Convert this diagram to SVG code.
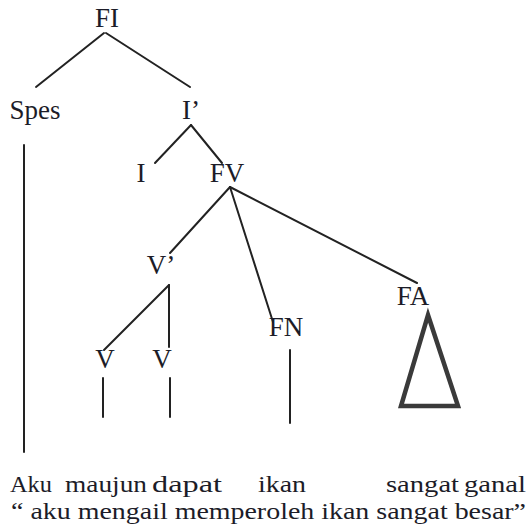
<svg xmlns="http://www.w3.org/2000/svg" width="529" height="530" viewBox="0 0 529 530">
<style>
text{font-family:"Liberation Serif","Times New Roman",serif;font-size:27px;fill:#1c1c28}
.n text{text-anchor:middle}
#gloss text{font-size:24px}
#connectors line{stroke:#222;stroke-width:2;stroke-linecap:round}
.tri{fill:none;stroke:#3a3a3a;stroke-width:4.5;stroke-linejoin:miter}
</style>
<rect width="529" height="530" fill="#fff"/>
<g id="connectors">
<line x1="104" y1="33" x2="36" y2="87"/>
<line x1="106" y1="33" x2="190" y2="87"/>
<line x1="191" y1="125" x2="155" y2="163"/>
<line x1="191" y1="125" x2="222" y2="163"/>
<line x1="24" y1="145" x2="24" y2="452"/>
<line x1="230" y1="187" x2="170" y2="253"/>
<line x1="230" y1="187" x2="273" y2="322"/>
<line x1="230" y1="187" x2="417" y2="283"/>
<line x1="169" y1="285" x2="169" y2="347"/>
<line x1="169" y1="285" x2="104" y2="350"/>
<line x1="103" y1="378" x2="103" y2="417"/>
<line x1="170" y1="378" x2="170" y2="417"/>
<line x1="290" y1="350" x2="290" y2="423"/>
</g>
<g class="n" id="FI"><text x="107" y="27">FI</text></g>
<g class="n" id="Spes"><text x="35" y="119">Spes</text></g>
<g class="n" id="Ibar"><text x="191" y="119">I’</text></g>
<g class="n" id="I"><text x="141" y="182">I</text></g>
<g class="n" id="FV"><text x="227" y="182">FV</text></g>
<g class="n" id="Vbar"><text x="161" y="274">V’</text></g>
<g class="n" id="FN"><text x="286" y="336">FN</text></g>
<g class="n" id="FA"><text x="413" y="305">FA</text><polygon class="tri" points="428,315 458,406 401,406"/></g>
<g class="n" id="V1"><text x="105" y="368">V</text></g>
<g class="n" id="V2"><text x="162" y="368">V</text></g>
<g id="gloss">
<text x="10" y="492" textLength="42" lengthAdjust="spacingAndGlyphs">Aku</text>
<text x="65" y="492" textLength="82" lengthAdjust="spacingAndGlyphs">maujun</text>
<text x="152" y="492" textLength="70" lengthAdjust="spacingAndGlyphs">dapat</text>
<text x="258" y="492" textLength="48" lengthAdjust="spacingAndGlyphs">ikan</text>
<text x="386" y="492" textLength="73" lengthAdjust="spacingAndGlyphs">sangat</text>
<text x="464" y="492" textLength="62" lengthAdjust="spacingAndGlyphs">ganal</text>
<text x="11" y="519" textLength="515" lengthAdjust="spacingAndGlyphs">“ aku mengail memperoleh ikan sangat besar”</text>
</g>
</svg>
